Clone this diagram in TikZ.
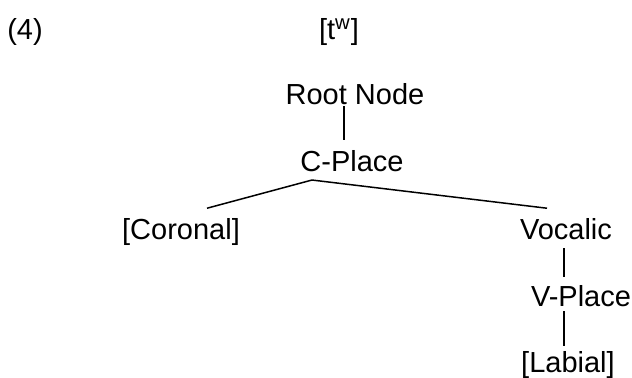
\documentclass[tikz,border=0pt]{standalone}
\usepackage{fontspec}
\setmainfont{Liberation Sans}
\usetikzlibrary{calc}
\begin{document}
\begin{tikzpicture}[x=0.5pt,y=-0.5pt,line width=0.75pt,
  feat/.style={inner sep=0pt,anchor=base,font=\fontsize{14.5}{17}\selectfont}]
\useasboundingbox (0,0) rectangle (632,378);
\node[feat](num)at(25,40){(4)};
\node[feat](seg)at(339,40){[t\textsuperscript{w}]};
\node[feat](root)at(355,105){Root Node};
\node[feat](cplace)at(352,172){C-Place};
\node[feat](coronal)at(181,240){[Coronal]};
\node[feat](vocalic)at(566,240){Vocalic};
\node[feat](vplace)at(581,307){V-Place};
\node[feat](labial)at(568,373){[Labial]};
\draw($(root.south)+(-11,0)$)--($(cplace.north)+(-8,-10)$);
\draw($(coronal.north)+(26,-10)$)--($(cplace.south)+(-40,7)$)--($(vocalic.north)+(-19,-10)$);
\draw($(vocalic.south)+(-2,7)$)--($(vplace.north)+(-17,-8)$);
\draw($(vplace.south)+(-17,3)$)--($(labial.north)+(-4,-5)$);
\end{tikzpicture}
\end{document}
